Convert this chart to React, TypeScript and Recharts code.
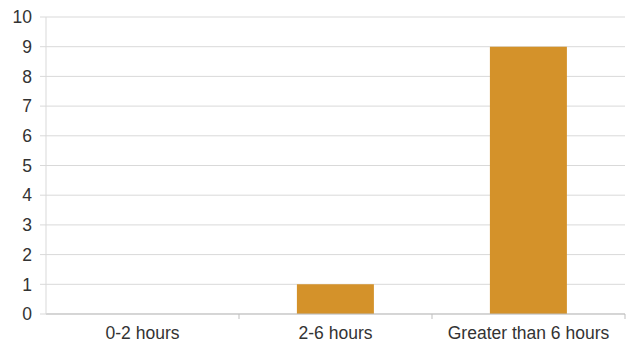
import { BarChart, Bar, XAxis, YAxis, CartesianGrid } from 'recharts';

const categories = ['0-2 hours', '2-6 hours', 'Greater than 6 hours'];
const counts = [0, 1, 9];
const yTicks = [0, 1, 2, 3, 4, 5, 6, 7, 8, 9, 10];

const data = categories.map((name, i) => ({ name, count: counts[i] }));

const CHART_W = 634;
const CHART_H = 343;
const PLOT_LEFT = 46;
const PLOT_RIGHT = 625;
const BAND = (PLOT_RIGHT - PLOT_LEFT) / categories.length;

// category label plus a tick mark on the right edge of each band
function CategoryTick(props: any) {
  const { x, y, payload } = props;
  const edge = x + BAND / 2;
  return (
    <g>
      <line x1={edge} y1={y - 8} x2={edge} y2={y - 3} stroke="#bfbfbf" strokeWidth={1} />
      <text x={x} y={y} dy={17} textAnchor="middle" fill="#333" fontSize={17.5}>
        {payload.value}
      </text>
    </g>
  );
}

export default function App() {
  return (
    <div style={{ position: 'absolute', left: 0, top: 0, background: '#fff', fontFamily: '"Liberation Sans", Arial, sans-serif' }}>
      <BarChart
        width={CHART_W}
        height={CHART_H}
        data={data}
        margin={{ top: 17, right: CHART_W - PLOT_RIGHT, left: 0, bottom: 0 }}
        barCategoryGap="30%"
      >
        <CartesianGrid vertical={false} stroke="#d9d9d9" />
        <XAxis
          dataKey="name"
          height={29}
          axisLine={{ stroke: '#bfbfbf' }}
          tickLine={false}
          interval={0}
          tick={<CategoryTick />}
        />
        <YAxis
          width={PLOT_LEFT}
          domain={[0, 10]}
          ticks={yTicks}
          interval={0}
          axisLine={{ stroke: '#d9d9d9' }}
          tickLine={{ stroke: '#d9d9d9' }}
          tickSize={6}
          tickMargin={8}
          tick={{ fill: '#333', fontSize: 17.5 }}
        />
        <Bar dataKey="count" fill="#D4922A" isAnimationActive={false} />
      </BarChart>
    </div>
  );
}
